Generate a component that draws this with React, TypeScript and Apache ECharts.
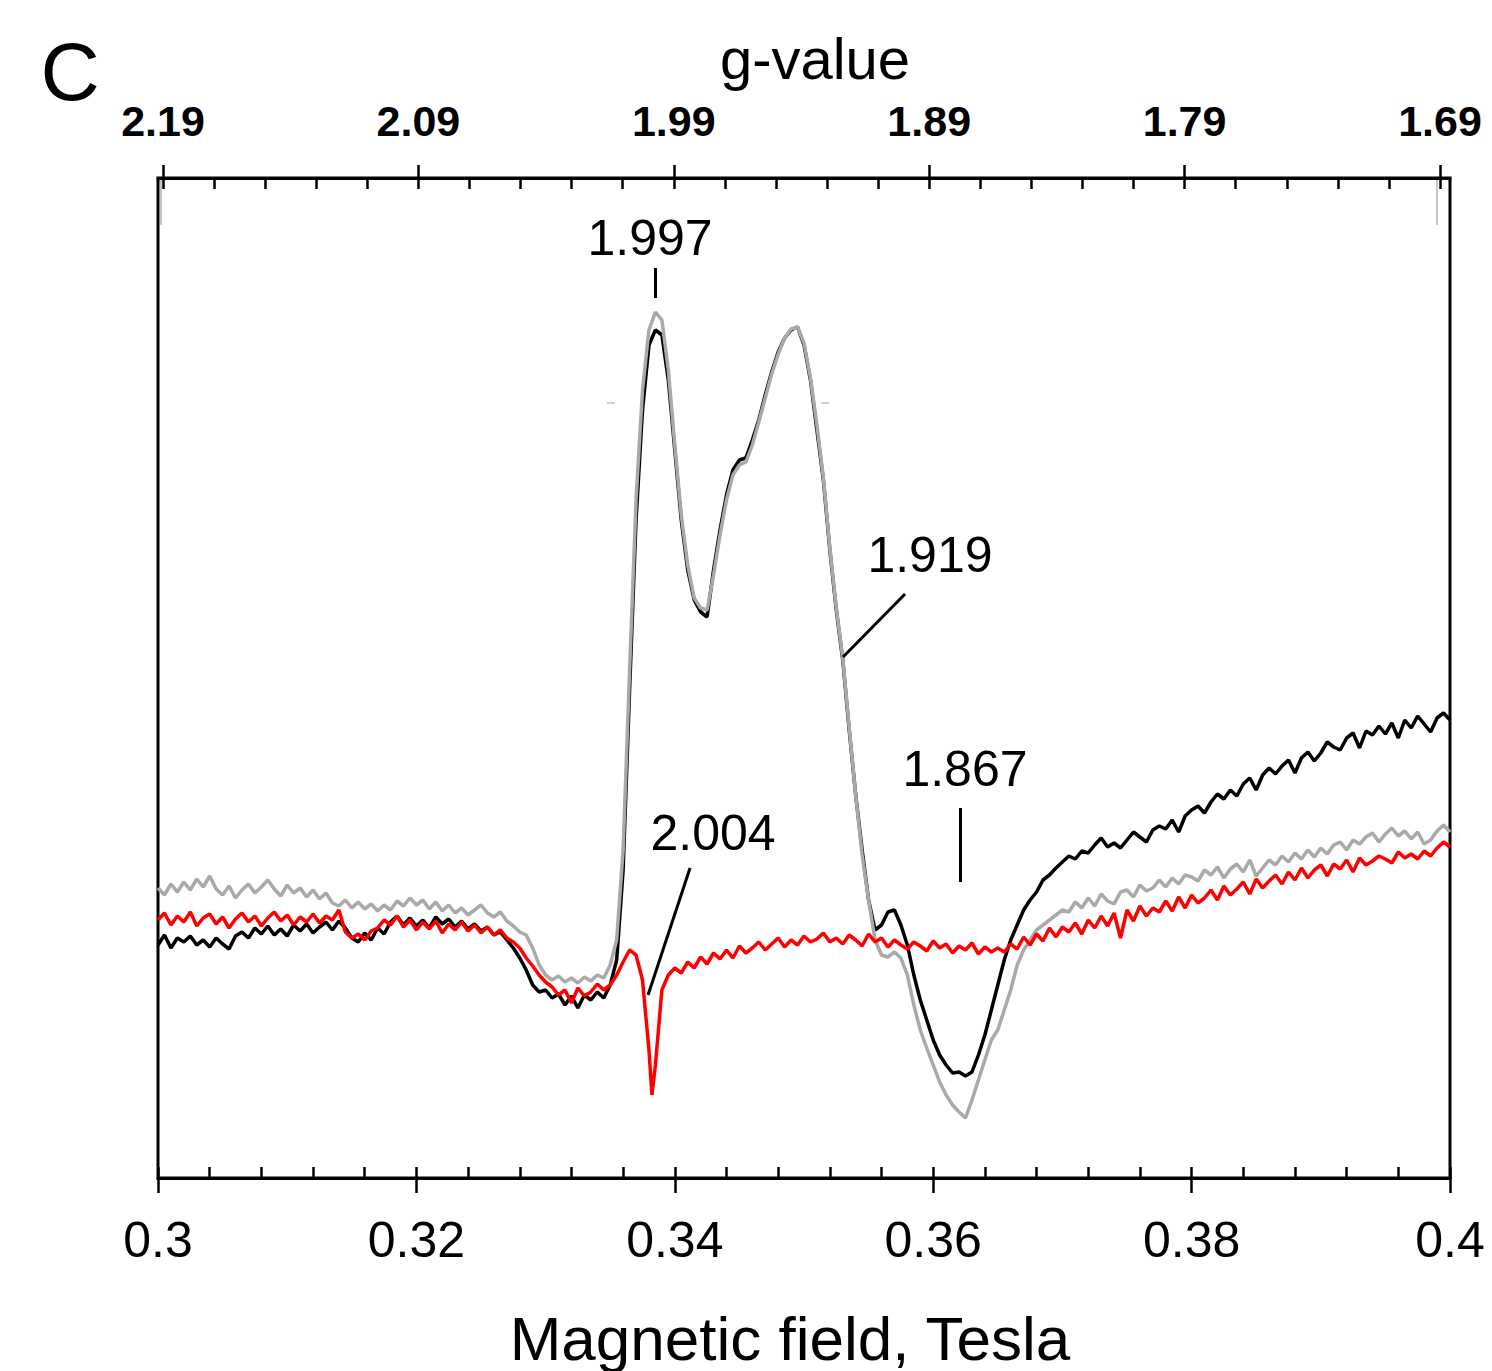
import React, { useEffect, useRef } from "react";
import * as echarts from "echarts";

// Magnetic field sweep (Tesla), 0.3 -> 0.4 in 0.5 mT steps
const FIELD_START = 0.3;
const FIELD_STEP = 0.0005;
const FIELD_COUNT = 201;
const FIELD: number[] = Array.from({ length: FIELD_COUNT }, (_, i) => Math.round((FIELD_START + i * FIELD_STEP) * 1e5) / 1e5);

// EPR signal (arbitrary units)
const BLACK = [
  233, 243, 230, 240, 236, 242, 233, 238, 231, 240,
  234, 229, 242, 246, 240, 250, 244, 252, 243, 249,
  242, 253, 247, 254, 245, 251, 256, 248, 257, 250,
  240, 236, 245, 238, 250, 244, 256, 262, 253, 260,
  252, 258, 250, 261, 254, 259, 251, 257, 249, 254,
  247, 251, 243, 246, 238, 230, 220, 208, 193, 186,
  188, 180, 184, 173, 182, 170, 183, 178, 186, 180,
  193, 218, 308, 488, 658, 768, 833, 848, 843, 798,
  728, 658, 608, 578, 566, 561, 608, 648, 683, 708,
  718, 720, 738, 758, 783, 806, 826, 840, 848, 851,
  833, 798, 748, 698, 628, 568, 518, 448, 383, 328,
  278, 248, 253, 266, 268, 253, 233, 203, 178, 158,
  138, 123, 113, 105, 106, 102, 106, 123, 143, 168,
  193, 218, 238, 253, 268, 278, 286, 298, 303, 310,
  316, 322, 319, 327, 325, 333, 340, 331, 335, 330,
  338, 346, 341, 336, 348, 352, 349, 358, 346, 362,
  368, 372, 365, 376, 384, 379, 388, 382, 394, 400,
  388, 403, 410, 404, 412, 418, 405, 420, 426, 417,
  425, 436, 431, 428, 440, 445, 430, 447, 443, 452,
  444, 455, 440, 458, 450, 462, 454, 446, 460, 465,
  458,
];

const GRAY = [
  290, 283, 294, 286, 296, 288, 299, 291, 302, 289,
  283, 292, 280, 288, 294, 285, 291, 298, 289, 282,
  293, 285, 290, 281, 288, 279, 285, 275, 272, 278,
  270, 276, 269, 274, 267, 273, 268, 277, 272, 280,
  273, 278, 269, 276, 267, 273, 265, 270, 263, 268,
  273, 265, 261, 266, 257, 252, 246, 243, 230, 213,
  203, 198, 202, 196, 200, 195, 201, 197, 203, 200,
  213, 238, 328, 508, 678, 788, 848, 866, 858, 808,
  733, 663, 613, 580, 570, 568, 603, 643, 678, 703,
  713, 716, 733, 756, 780, 804, 824, 840, 849, 851,
  835, 800, 753, 700, 630, 570, 520, 450, 383, 323,
  278, 238, 223, 221, 226, 220, 203, 173, 148, 130,
  113, 96, 83, 73, 66, 60, 78, 98, 118, 138,
  148, 168, 188, 213, 228, 238, 248, 253, 258, 263,
  268, 266, 276, 270, 280, 272, 284, 277, 274, 286,
  288, 281, 293, 287, 290, 298, 291, 300, 294, 303,
  301, 297, 308, 303, 311, 300, 309, 314, 306, 318,
  302, 310, 318, 313, 322, 316, 325, 319, 328, 321,
  330, 324, 333, 336, 328, 338, 334, 341, 345, 336,
  344, 350, 342, 347, 339, 346, 334, 338, 347, 353,
  346,
];

const RED = [
  258, 265, 253, 262, 256, 266, 252, 260, 264, 254,
  261, 250, 259, 265, 256, 262, 252, 260, 266, 257,
  263, 253, 261, 256, 264, 255, 262, 258, 268, 246,
  240, 244, 238, 247, 250, 258, 253, 262, 251, 258,
  248, 256, 249, 257, 245, 254, 248, 256, 247, 253,
  245, 251, 243, 248, 240, 236, 230, 220, 212, 203,
  196, 191, 183, 188, 175, 190, 182, 186, 194, 188,
  193, 203, 216, 228, 223, 198, 128, 113, 188, 203,
  210, 205, 216, 210, 221, 214, 225, 219, 228, 220,
  232, 225, 230, 236, 228, 234, 240, 231, 238, 233,
  242, 236, 239, 245, 236, 240, 234, 243, 238, 232,
  244, 236, 240, 231, 238, 233, 229, 236, 232, 227,
  237, 230, 234, 225, 232, 228, 235, 224, 231, 226,
  230, 226, 234, 229, 241, 233, 244, 237, 250, 241,
  251, 246, 255, 244, 258, 250, 262, 252, 265, 240,
  268, 257, 272, 262, 270, 266, 277, 267, 281, 270,
  283, 275, 280, 288, 278, 292, 283, 289, 296, 284,
  299, 290, 297, 303, 294, 306, 298, 310, 300, 308,
  313, 302, 314, 309, 318, 306, 320, 313, 317, 322,
  319, 315, 326, 320, 324, 319, 327, 322, 330, 336,
  331,
];
// extra sample at the sharp g = 2.004 line of the red trace
const RED_DIP_FIELD = [0.33823];
const RED_DIP = [83];

// Axis ticks
const FIELD_MIN = 0.3;
const FIELD_MAX = 0.4;
const G_MIN = 1.68608;
const G_MAX = 2.19196;
const G_LABELS = [2.19, 2.09, 1.99, 1.89, 1.79, 1.69];
const G_MINOR = [
  2.19, 2.17, 2.15, 2.13, 2.11, 2.09, 2.07, 2.05, 2.03, 2.01, 1.99, 1.97, 1.95,
  1.93, 1.91, 1.89, 1.87, 1.85, 1.83, 1.81, 1.79, 1.77, 1.75, 1.73, 1.71, 1.69,
];

// Annotations (field, signal)
const ANNOT_LABELS = ["1.997", "1.919", "2.004", "1.867"];
const ANNOT_LABEL_POS = [
  [0.33808, 940],
  [0.35975, 623],
  [0.34296, 345],
  [0.36246, 409],
];
const ANNOT_LINES = [
  [[0.33847, 910], [0.33847, 880]],
  [[0.35782, 584], [0.35302, 521]],
  [[0.34118, 310], [0.33793, 183]],
  [[0.36207, 370], [0.36207, 296]],
];

const SANS = "'Liberation Sans', Arial, Helvetica, sans-serif";

export default function App() {
  const ref = useRef<HTMLDivElement>(null);
  useEffect(() => {
    document.body.style.margin = "0";
    if (!ref.current) return;
    const chart = echarts.init(ref.current, null, { renderer: "svg" });
    const pairs = (vals: number[]) => FIELD.map((x, i) => [x, vals[i]]);
    const redData = [...pairs(RED), ...RED_DIP_FIELD.map((x, i) => [x, RED_DIP[i]])].sort((a, b) => a[0] - b[0]);

    const lineSeries = (name: string, data: number[][], color: string) => ({
      name,
      type: "line",
      xAxisIndex: 0,
      yAxisIndex: 0,
      data,
      showSymbol: false,
      symbol: "none",
      smooth: false,
      lineStyle: { color, width: 3.5 },
      itemStyle: { color },
      silent: true,
    });

    const red: any = lineSeries("red", redData, "#ff0000");
    red.markLine = {
      silent: true,
      symbol: ["none", "none"],
      label: { show: false },
      lineStyle: { color: "#000", width: 3, type: "solid" },
      data: ANNOT_LINES.map(([a, b]) => [{ coord: a }, { coord: b }]),
    };
    red.markPoint = {
      silent: true,
      symbol: "rect",
      symbolSize: 1,
      itemStyle: { color: "rgba(0,0,0,0)" },
      label: {
        show: true,
        position: "inside",
        formatter: "{b}",
        fontSize: 50,
        fontFamily: SANS,
        color: "#000",
      },
      data: ANNOT_LABELS.map((t, i) => ({ name: t, coord: ANNOT_LABEL_POS[i] })),
    };

    chart.setOption({
      animation: false,
      backgroundColor: "#fff",
      grid: {
        left: 158,
        right: 42,
        top: 178,
        bottom: 193,
        show: true,
        borderColor: "#000",
        borderWidth: 3,
        backgroundColor: "transparent",
      },
      xAxis: [
        {
          type: "value",
          position: "bottom",
          min: FIELD_MIN,
          max: FIELD_MAX,
          interval: 0.02,
          axisLine: { show: true, onZero: false, lineStyle: { color: "#000", width: 3 } },
          axisTick: { show: true, inside: false, length: 15, lineStyle: { color: "#000", width: 2.5 } },
          axisLabel: {
            show: true,
            margin: 37,
            fontSize: 50,
            fontFamily: SANS,
            color: "#000",
            formatter: (v: number) => String(Math.round(v * 100) / 100),
          },
          splitLine: { show: false },
        },
        {
          type: "value",
          position: "bottom",
          min: FIELD_MIN,
          max: FIELD_MAX,
          interval: 0.004,
          axisLine: { show: false, onZero: false },
          axisTick: { show: true, inside: true, length: 11, lineStyle: { color: "#000", width: 2.5 } },
          axisLabel: { show: false },
          splitLine: { show: false },
        },
        {
          type: "value",
          position: "top",
          inverse: true,
          min: G_MIN,
          max: G_MAX,
          axisLine: { show: true, onZero: false, lineStyle: { color: "#000", width: 3 } },
          axisTick: { show: true, inside: false, length: 13, customValues: G_LABELS, lineStyle: { color: "#000", width: 2.5 } },
          axisLabel: {
            show: true,
            customValues: G_LABELS,
            margin: 36,
            fontSize: 43,
            fontWeight: "bold",
            fontFamily: SANS,
            color: "#000",
            formatter: (v: number) => v.toFixed(2),
          },
          splitLine: { show: false },
        },
        {
          type: "value",
          position: "top",
          inverse: true,
          min: G_MIN,
          max: G_MAX,
          axisLine: { show: false, onZero: false },
          axisTick: { show: true, inside: true, length: 11, customValues: G_MINOR, lineStyle: { color: "#000", width: 2.5 } },
          axisLabel: { show: false },
          splitLine: { show: false },
        },
      ],
      yAxis: [{ type: "value", min: 0, max: 1000, show: false, splitLine: { show: false } }],
      series: [
        lineSeries("black", pairs(BLACK), "#000000"),
        lineSeries("gray", pairs(GRAY), "#a9a9a9"),
        red,
      ],
      graphic: [
        {
          type: "text",
          x: 70,
          y: 71,
          style: { text: "C", fontSize: 82, fontFamily: SANS, fill: "#000", align: "center", verticalAlign: "middle" },
        },
        {
          type: "text",
          x: 815,
          y: 58,
          style: { text: "g-value", fontSize: 58, fontFamily: SANS, fill: "#000", align: "center", verticalAlign: "middle" },
        },
        {
          type: "text",
          x: 790,
          y: 1338,
          style: { text: "Magnetic field, Tesla", fontSize: 62, fontFamily: SANS, fill: "#000", align: "center", verticalAlign: "middle" },
        },
        { type: "line", shape: { x1: 161, y1: 180, x2: 161, y2: 225 }, style: { stroke: "#b0b0b0", lineWidth: 1.5 } },
        { type: "line", shape: { x1: 1437, y1: 180, x2: 1437, y2: 225 }, style: { stroke: "#b0b0b0", lineWidth: 1.5 } },
        { type: "line", shape: { x1: 607, y1: 403, x2: 615, y2: 403 }, style: { stroke: "#c0c0c0", lineWidth: 1.5 } },
        { type: "line", shape: { x1: 821, y1: 403, x2: 829, y2: 403 }, style: { stroke: "#c0c0c0", lineWidth: 1.5 } },
      ],
    });
    return () => chart.dispose();
  }, []);
  return <div ref={ref} style={{ position: "absolute", left: 0, top: 0, width: 1492, height: 1371 }} />;
}
